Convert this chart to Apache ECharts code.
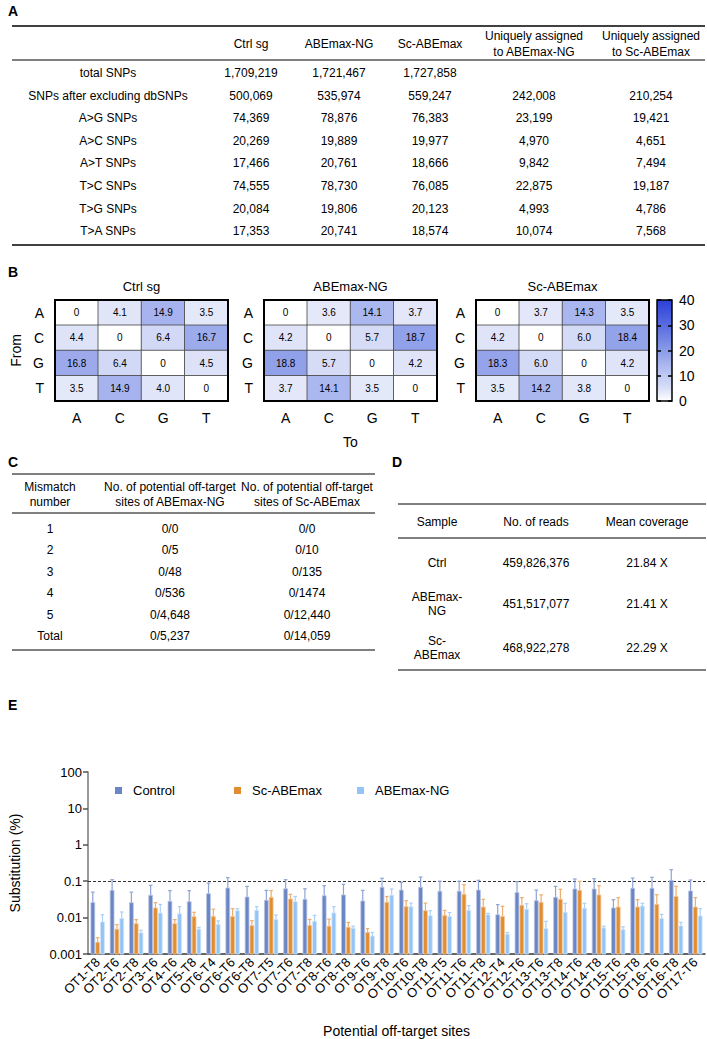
<!DOCTYPE html>
<html><head><meta charset="utf-8">
<script src="https://cdn.jsdelivr.net/npm/echarts@6/dist/echarts.min.js"></script>
<style>html,body{margin:0;padding:0;background:#fff}#c{width:707px;height:1039px}</style>
</head><body><div id="c"></div>
<script>
// ---------- Panel A data ----------
const tableAHeaders = ['', 'Ctrl sg', 'ABEmax-NG', 'Sc-ABEmax', 'Uniquely assigned\nto ABEmax-NG', 'Uniquely assigned\nto Sc-ABEmax'];
const tableARows = [
  ['total SNPs', '1,709,219', '1,721,467', '1,727,858', '', ''],
  ['SNPs after excluding dbSNPs', '500,069', '535,974', '559,247', '242,008', '210,254'],
  ['A>G SNPs', '74,369', '78,876', '76,383', '23,199', '19,421'],
  ['A>C SNPs', '20,269', '19,889', '19,977', '4,970', '4,651'],
  ['A>T SNPs', '17,466', '20,761', '18,666', '9,842', '7,494'],
  ['T>C SNPs', '74,555', '78,730', '76,085', '22,875', '19,187'],
  ['T>G SNPs', '20,084', '19,806', '20,123', '4,993', '4,786'],
  ['T>A SNPs', '17,353', '20,741', '18,574', '10,074', '7,568']
];
// ---------- Panel B data ----------
const bases = ['A', 'C', 'G', 'T'];
const heatTitles = ['Ctrl sg', 'ABEmax-NG', 'Sc-ABEmax'];
const heatCtrl = [[0, 4.1, 14.9, 3.5], [4.4, 0, 6.4, 16.7], [16.8, 6.4, 0, 4.5], [3.5, 14.9, 4.0, 0]];
const heatABE  = [[0, 3.6, 14.1, 3.7], [4.2, 0, 5.7, 18.7], [18.8, 5.7, 0, 4.2], [3.7, 14.1, 3.5, 0]];
const heatSc   = [[0, 3.7, 14.3, 3.5], [4.2, 0, 6.0, 18.4], [18.3, 6.0, 0, 4.2], [3.5, 14.2, 3.8, 0]];
const colorbarRange = [0, 40];
const heatColors = ['#ffffff', '#d9dff7', '#c1caf3', '#a6b3ee', '#8a9be8', '#7184e4', '#596ce0', '#4256dc', '#2c3fd8'];
// ---------- Panel C data ----------
const tableCHeaders = ['Mismatch\nnumber', 'No. of potential off-target\nsites of ABEmax-NG', 'No. of potential off-target\nsites of Sc-ABEmax'];
const tableCRows = [
  ['1', '0/0', '0/0'], ['2', '0/5', '0/10'], ['3', '0/48', '0/135'],
  ['4', '0/536', '0/1474'], ['5', '0/4,648', '0/12,440'], ['Total', '0/5,237', '0/14,059']
];
// ---------- Panel D data ----------
const tableDHeaders = ['Sample', 'No. of reads', 'Mean coverage'];
const tableDRows = [
  ['Ctrl', '459,826,376', '21.84 X'],
  ['ABEmax-\nNG', '451,517,077', '21.41 X'],
  ['Sc-\nABEmax', '468,922,278', '22.29 X']
];
// ---------- Panel E data ----------
const sites = ['OT1-T8','OT2-T6','OT2-T8','OT3-T6','OT4-T6','OT5-T8','OT6-T4','OT6-T6','OT6-T8','OT7-T5','OT7-T6','OT7-T8','OT8-T6','OT8-T8','OT9-T6','OT9-T8','OT10-T6','OT10-T8','OT11-T5','OT11-T6','OT11-T8','OT12-T4','OT12-T6','OT13-T6','OT13-T8','OT14-T6','OT14-T8','OT15-T6','OT15-T8','OT16-T6','OT16-T8','OT17-T6'];
const seriesNames = ['Control', 'Sc-ABEmax', 'ABEmax-NG'];
const controlMean = [0.026,0.056,0.0257,0.041,0.028,0.0274,0.0454,0.065,0.0368,0.0298,0.062,0.0318,0.040,0.042,0.0286,0.068,0.057,0.068,0.053,0.053,0.057,0.012,0.049,0.029,0.036,0.061,0.061,0.0184,0.064,0.064,0.106,0.054];
const controlErr  = [0.05,0.11,0.05,0.077,0.055,0.055,0.089,0.125,0.072,0.056,0.11,0.062,0.075,0.082,0.056,0.12,0.093,0.13,0.10,0.10,0.106,0.0227,0.097,0.057,0.072,0.115,0.117,0.031,0.122,0.128,0.207,0.108];
const scMean = [0.0021,0.0048,0.0068,0.0184,0.0068,0.0106,0.0108,0.0108,0.006,0.036,0.0324,0.0061,0.0058,0.0054,0.0039,0.0263,0.020,0.0155,0.0115,0.0436,0.0195,0.0108,0.0217,0.0263,0.0318,0.056,0.042,0.0195,0.0195,0.0231,0.038,0.0195];
const scErr  = [0.0028,0.0064,0.0088,0.0257,0.0088,0.014,0.017,0.0176,0.0082,0.055,0.0436,0.0089,0.0091,0.0074,0.005,0.038,0.029,0.025,0.0158,0.080,0.0318,0.0204,0.0353,0.042,0.060,0.099,0.075,0.0353,0.031,0.0427,0.072,0.0353];
const ngMean = [0.0076,0.0095,0.0038,0.0134,0.0128,0.0048,0.0065,0.0155,0.0158,0.0088,0.0274,0.0079,0.0134,0.0051,0.0031,0.041,0.020,0.0113,0.0108,0.0158,0.012,0.0035,0.0169,0.005,0.014,0.018,0.0052,0.0047,0.0208,0.0095,0.0059,0.0111];
const ngErr  = [0.012,0.0143,0.0045,0.023,0.020,0.0054,0.0081,0.0176,0.020,0.0118,0.038,0.0115,0.02,0.0058,0.0039,0.061,0.025,0.0155,0.0137,0.0213,0.0131,0.0039,0.0241,0.0079,0.0247,0.0247,0.0058,0.0056,0.0247,0.0123,0.0074,0.0176];
const yTickLabels = ['0.001', '0.01', '0.1', '1', '10', '100'];
const thresholdLine = 0.1;

// ---------- build ----------
const FONT = "'Liberation Sans', Arial, sans-serif";
const chart = echarts.init(document.getElementById('c'), null, {renderer: 'svg', width: 707, height: 1039});
const graphic = [];
function txt(x, y, s, o) {
  o = o || {};
  graphic.push({type: 'text', x: x, y: y, silent: true, z: 10,
    style: {text: s, fill: '#000', fontSize: o.size || 12, fontFamily: FONT, fontWeight: o.weight || 'normal',
      align: o.align || 'center', verticalAlign: 'middle', lineHeight: o.lh || 15}});
}
function hline(x1, x2, y, w) {
  graphic.push({type: 'line', silent: true, z: 10, shape: {x1: x1, y1: y, x2: x2, y2: y}, style: {stroke: '#000', lineWidth: w}});
}
// panel letters
[['A', 8, 11], ['B', 8, 272], ['C', 8, 462], ['D', 392, 462], ['E', 8, 705]].forEach(function (p) {
  txt(p[1], p[2], p[0], {size: 14, weight: 'bold', align: 'left'});
});
// Panel A table
const colA = [108, 251, 339, 430, 534, 651];
hline(12, 705, 26, 1.5); hline(12, 705, 60, 1); hline(12, 705, 245, 1.5);
tableAHeaders.forEach(function (h, j) { if (h) txt(colA[j], 44, h, {lh: 16}); });
tableARows.forEach(function (r, i) { r.forEach(function (c, j) { if (c) txt(colA[j], 73 + 22.6 * i, c); }); });
// Panel C table
const colC = [50, 170, 307];
hline(12, 375, 474, 1); hline(12, 375, 513, 1); hline(12, 375, 650, 1);
tableCHeaders.forEach(function (h, j) { txt(colC[j], 494, h, {lh: 15}); });
tableCRows.forEach(function (r, i) { r.forEach(function (c, j) { txt(colC[j], 529 + 21.4 * i, c); }); });
// Panel D table
const colD = [437, 536, 647];
const rowD = [563, 604, 648];
hline(398, 706, 504, 1); hline(398, 706, 538, 1); hline(398, 706, 670, 1);
tableDHeaders.forEach(function (h, j) { txt(colD[j], 522, h); });
tableDRows.forEach(function (r, i) { r.forEach(function (c, j) { txt(colD[j], rowD[i], c, {lh: 14}); }); });

// heatmap grids
const heatLeft = [55, 264, 476];
const heatData = [heatCtrl, heatABE, heatSc];
heatTitles.forEach(function (t, k) { txt(heatLeft[k] + 86.5, 286, t, {size: 13}); });

const grids = [], xAxes = [], yAxes = [], series = [];
heatLeft.forEach(function (l, k) {
  grids.push({left: l, top: 300, width: 173, height: 101, containLabel: false});
  xAxes.push({type: 'category', gridIndex: k, data: bases, axisLine: {show: false}, axisTick: {show: false},
    axisLabel: {fontSize: 14, color: '#000', fontFamily: FONT, margin: 10},
    name: k === 1 ? 'To' : '', nameLocation: 'middle', nameGap: 34, nameTextStyle: {fontSize: 14, color: '#000', fontFamily: FONT}});
  yAxes.push({type: 'category', gridIndex: k, data: bases, inverse: true, axisLine: {show: false}, axisTick: {show: false},
    axisLabel: {fontSize: 14, color: '#000', fontFamily: FONT, margin: 11},
    name: k === 0 ? 'From' : '', nameLocation: 'middle', nameGap: 32, nameRotate: 90, nameTextStyle: {fontSize: 14, color: '#000', fontFamily: FONT}});
  const d = [];
  heatData[k].forEach(function (row, r) { row.forEach(function (v, c) { d.push([c, r, v]); }); });
  series.push({type: 'heatmap', xAxisIndex: k, yAxisIndex: k, data: d,
    itemStyle: {borderColor: '#444', borderWidth: 0.8},
    label: {show: true, fontSize: 10, color: '#000', fontFamily: FONT,
      formatter: function (p) { return p.value[2] === 0 ? '0' : p.value[2].toFixed(1); }},
    emphasis: {disabled: true}});
  series.push({type: 'custom', xAxisIndex: k, yAxisIndex: k, data: [[0, 0]], z: 5, silent: true,
    renderItem: function (params, api) {
      const p0 = api.coord([0, 0]); const p1 = api.coord([3, 3]); const s = api.size([1, 1]);
      return {type: 'rect', shape: {x: p0[0] - s[0] / 2, y: p0[1] - s[1] / 2, width: p1[0] - p0[0] + s[0], height: p1[1] - p0[1] + s[1]},
        style: {fill: 'none', stroke: '#000', lineWidth: 2}};
    }});
});
// colorbar grid (index 3)
grids.push({left: 657, top: 300, width: 15, height: 101});
xAxes.push({type: 'category', gridIndex: 3, data: [''], show: false});
yAxes.push({type: 'value', gridIndex: 3, min: colorbarRange[0], max: colorbarRange[1], interval: 10, position: 'right', z: 6,
  axisLine: {show: false}, splitLine: {show: false},
  axisTick: {show: true, inside: true, length: 4, lineStyle: {color: '#000', width: 1.5}},
  axisLabel: {fontSize: 14, color: '#000', fontFamily: FONT, margin: 7}});
yAxes.push({type: 'value', gridIndex: 3, min: colorbarRange[0], max: colorbarRange[1], interval: 10, position: 'left', z: 6,
  axisLine: {show: false}, splitLine: {show: false}, axisLabel: {show: false},
  axisTick: {show: true, inside: true, length: 4, lineStyle: {color: '#000', width: 1.5}}});
series.push({type: 'custom', xAxisIndex: 3, yAxisIndex: 3, data: [[0, colorbarRange[0], colorbarRange[1]]], silent: true, z: 2,
  encode: {x: 0, y: [1, 2]},
  renderItem: function (params, api) {
    const a = api.coord([0, api.value(1)]); const b = api.coord([0, api.value(2)]); const w = api.size([1, 0])[0];
    const stops = heatColors.map(function (c, i) { return {offset: 1 - i / (heatColors.length - 1), color: c}; }).reverse();
    return {type: 'rect', shape: {x: a[0] - w / 2, y: b[1], width: w, height: a[1] - b[1]},
      style: {fill: new echarts.graphic.LinearGradient(0, 0, 0, 1, stops), stroke: '#000', lineWidth: 1.5}};
  }});

// Panel E grid (index 4)
grids.push({left: 85, top: 772, width: 620, height: 182});
xAxes.push({type: 'category', gridIndex: 4, data: sites,
  axisLine: {lineStyle: {color: '#333', width: 1.5}},
  axisTick: {alignWithLabel: true, length: 5, lineStyle: {color: '#333', width: 1.5}},
  axisLabel: {interval: 0, rotate: 45, fontSize: 13, color: '#000', fontFamily: FONT, margin: 6},
  name: 'Potential off-target sites', nameLocation: 'middle', nameGap: 70,
  nameTextStyle: {fontSize: 14, color: '#000', fontFamily: FONT}});
yAxes.push({type: 'log', gridIndex: 4, logBase: 10, min: 0.001, max: 100,
  axisLine: {show: true, lineStyle: {color: '#777', width: 1.5}},
  axisTick: {show: true, length: 5, lineStyle: {color: '#555', width: 1.5}},
  splitLine: {show: false}, minorTick: {show: false},
  axisLabel: {fontSize: 13, color: '#000', fontFamily: FONT, margin: 6,
    formatter: function (v) { return yTickLabels[Math.round(Math.log10(v)) + 3]; }},
  name: 'Substitution (%)', nameLocation: 'middle', nameGap: 66, nameRotate: 90,
  nameTextStyle: {fontSize: 14, color: '#000', fontFamily: FONT}});

const barColors = ['#6a86c4', '#e08e31', '#94c4f6'];
const haloColors = ['#b7c4e4', '#f2c69a', '#cfe5fb'];
const errColors = ['#8ea3d6', '#eeae6a', '#a9d0f8'];
const means = [controlMean, scMean, ngMean];
const errs = [controlErr, scErr, ngErr];
const offsets = [-0.25, 0, 0.25];
const yMinE = 0.001;
means.forEach(function (m, k) {
  series.push({type: 'custom', name: seriesNames[k] + ' SD', xAxisIndex: 4, yAxisIndex: 5, silent: true, z: 2,
    data: m.map(function (v, i) { return [i, v, errs[k][i]]; }), encode: {x: 0, y: [1, 2]},
    renderItem: function (params, api) {
      const i = api.value(0);
      const p1 = api.coord([i, api.value(1)]); const p2 = api.coord([i, api.value(2)]);
      const band = api.size([1, 0])[0]; const x = p1[0] + offsets[k] * band;
      return {type: 'group', children: [
        {type: 'line', shape: {x1: x, y1: p1[1], x2: x, y2: p2[1]}, style: {stroke: errColors[k], lineWidth: 1.2}},
        {type: 'line', shape: {x1: x - 1.8, y1: p2[1], x2: x + 1.8, y2: p2[1]}, style: {stroke: errColors[k], lineWidth: 1.2}}
      ]};
    }});
});
means.forEach(function (m, k) {
  const s = {type: 'custom', name: seriesNames[k], xAxisIndex: 4, yAxisIndex: 5, z: 3,
    itemStyle: {color: barColors[k]},
    data: m.map(function (v, i) { return [i, v]; }), encode: {x: 0, y: 1},
    renderItem: function (params, api) {
      const i = api.value(0);
      const top = api.coord([i, api.value(1)]); const base = api.coord([i, yMinE]);
      const band = api.size([1, 0])[0]; const w = band * 0.2;
      const x = top[0] + offsets[k] * band - w / 2;
      return {type: 'rect', shape: {x: x, y: top[1], width: w, height: base[1] - top[1]},
        style: {fill: barColors[k], stroke: haloColors[k], lineWidth: 0.8}};
    }};
  if (k === 0) {
    s.markLine = {silent: true, symbol: 'none', label: {show: false}, z: 1,
      lineStyle: {type: [3, 2], color: '#333', width: 1.2}, data: [{yAxis: thresholdLine}]};
  }
  series.push(s);
});

const legendLeft = [110, 229, 352];
const legends = seriesNames.map(function (n, k) {
  return {data: [n], left: legendLeft[k], top: 779, icon: 'rect', itemWidth: 7, itemHeight: 7, itemGap: 0,
    selectedMode: false, textStyle: {fontSize: 13, color: '#000', fontFamily: FONT, padding: [0, 0, 0, 6]}};
});

chart.setOption({
  animation: false,
  textStyle: {fontFamily: FONT},
  grid: grids, xAxis: xAxes, yAxis: yAxes,
  visualMap: {type: 'continuous', show: false, min: colorbarRange[0], max: colorbarRange[1], seriesIndex: [0, 2, 4],
    dimension: 2, inRange: {color: heatColors}},
  legend: legends,
  series: series,
  graphic: graphic
});
</script></body></html>
